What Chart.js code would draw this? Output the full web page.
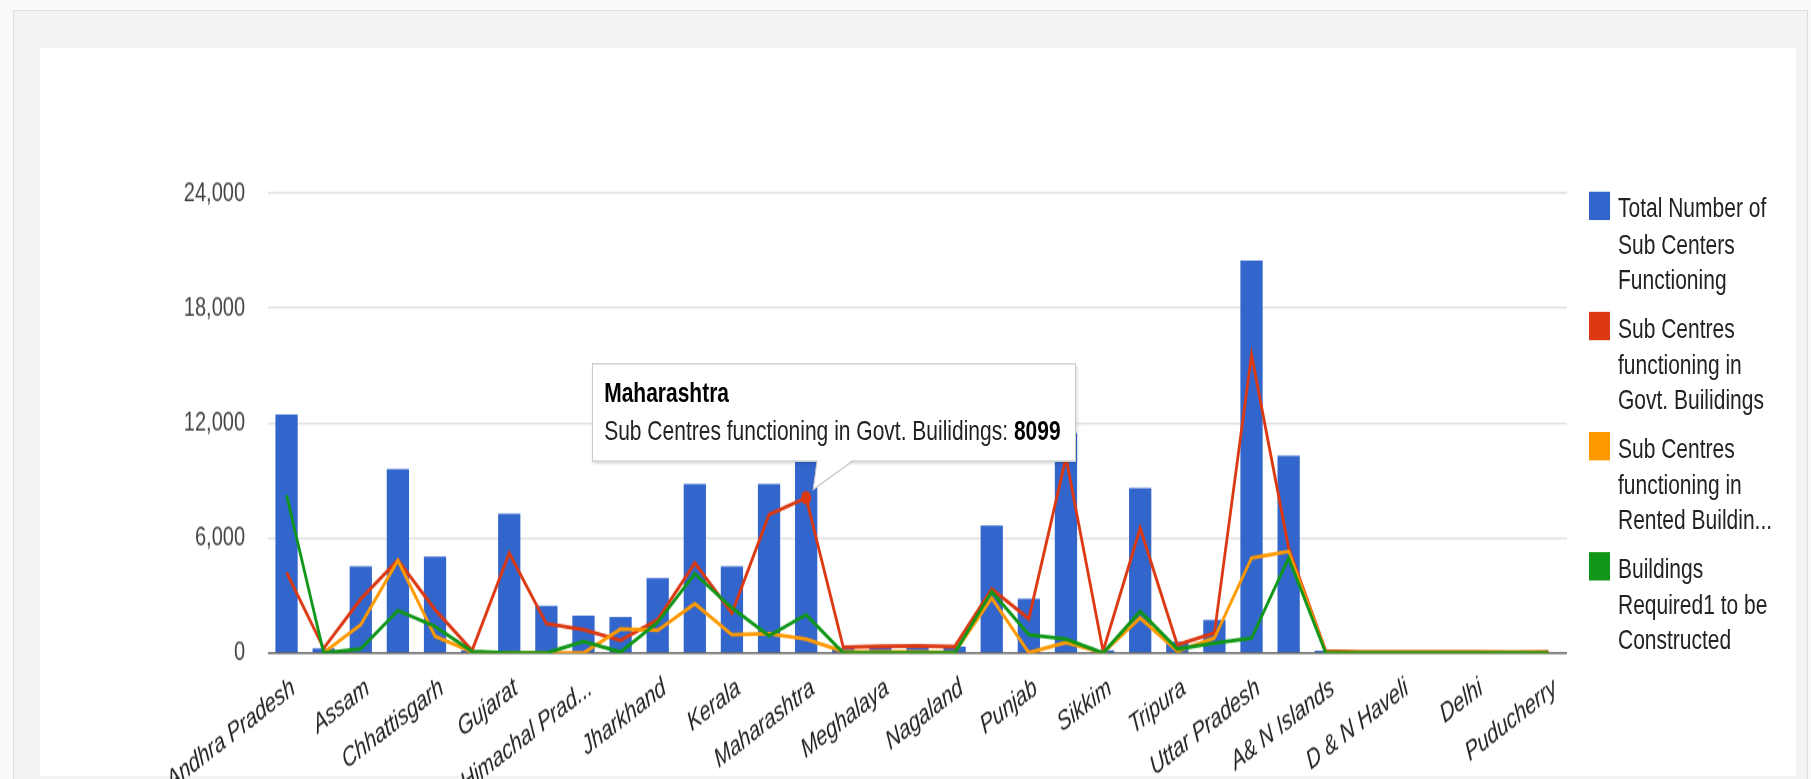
<!DOCTYPE html>
<html>
<head>
<meta charset="utf-8">
<title>Sub Centres by State</title>
<script src="https://cdn.jsdelivr.net/npm/chart.js@4.4.1/dist/chart.umd.min.js"></script>
<style>
  html, body {
    margin: 0;
    padding: 0;
    width: 1811px;
    height: 779px;
    overflow: hidden;
    background: #fafafa;
    font-family: "Liberation Sans", Arial, sans-serif;
  }
  .frame {
    position: absolute;
    left: 13px;
    top: 10px;
    width: 1795px;
    height: 800px;
    box-sizing: border-box;
    background: #f3f3f3;
    border: 1px solid #dedede;
  }
  .panel {
    position: absolute;
    left: 40px;
    top: 48px;
    width: 1756px;
    height: 728px;
    background: #fff;
  }
  /* the source picture is stretched vertically, so the whole chart is too */
  .stage {
    position: absolute;
    left: 0;
    top: 0;
    width: 1811px;
    height: 577px;
    transform: scaleY(1.35);
    transform-origin: 0 0;
  }
  .chart-box { position: absolute; left: 0; top: 0; width: 1811px; height: 577px; }
  .legend { position: absolute; left: 1589px; top: 142px; }
  .legend-item { position: relative; height: 89px; }
  .legend-swatch { position: absolute; left: 0; top: 0; width: 21px; height: 21px; }
  .legend-text {
    position: absolute;
    left: 29px;
    top: -1px;
    font-size: 21px;
    line-height: 26.7px;
    color: #222;
    white-space: nowrap;
  }
  .tip {
    position: absolute;
    box-sizing: border-box;
    height: 73px;
    padding: 7px 14px 0 11px;
    background: #fff;
    border: 1px solid #ccc;
    box-shadow: 1px 2px 3px rgba(0, 0, 0, 0.18);
    font-size: 21px;
    line-height: 28.4px;
    color: #222;
    white-space: nowrap;
  }
  .tip .title { font-weight: bold; color: #000; }
  .tip b { color: #000; }
  .tail { position: absolute; left: 0; top: 0; overflow: visible; }
</style>
</head>
<body>
<div class="frame"></div>
<div class="panel"></div>
<div class="stage" id="stage">
  <div class="chart-box"><canvas id="subCentreChart"></canvas></div>
  <div class="legend" id="legend"></div>
</div>

<script>
const categories = [
  "Andhra Pradesh", "Arunachal Pradesh", "Assam", "Bihar", "Chhattisgarh", "Goa",
  "Gujarat", "Haryana", "Himachal Pradesh", "Jammu & Kashmir", "Jharkhand", "Karnataka",
  "Kerala", "Madhya Pradesh", "Maharashtra", "Manipur", "Meghalaya", "Mizoram",
  "Nagaland", "Orissa", "Punjab", "Rajasthan", "Sikkim", "Tamil Nadu",
  "Tripura", "Uttarakhand", "Uttar Pradesh", "West Bengal", "A& N Islands", "Chandigarh",
  "D & N Haveli", "Daman & Diu", "Delhi", "Lakshadweep", "Puducherry"
];

const totalFunctioning = [
  12440, 240, 4520, 9600, 5040, 140, 7270, 2470, 1950, 1880, 3910, 8820,
  4520, 8820, 10580, 280, 330, 280, 330, 6660, 2830, 11480, 140, 8610,
  600, 1720, 20480, 10290, 120, 20, 50, 30, 40, 15, 50
];
const govtBuildings = [
  4200, 250, 2820, 4850, 2260, 140, 5220, 1530, 1220, 660, 1740, 4700,
  2090, 7220, 8099, 300, 350, 370, 330, 3340, 1790, 10200, 100, 6520,
  430, 1040, 15560, 5480, 110, 60, 60, 50, 50, 40, 50
];
const rentedBuildings = [
  null, 20, 1480, 4830, 870, 60, 0, 0, 0, 1250, 1180, 2570,
  960, 1010, 730, 80, 60, 60, 20, 2870, 20, 550, 10, 1830,
  100, 780, 4960, 5300, 50, 30, 30, 30, 30, 30, 30
];
const toBeConstructed = [
  8250, 0, 210, 2220, 1390, 80, 0, 0, 600, 50, 1600, 4140,
  2350, 900, 2000, 0, 0, 0, 0, 3210, 960, 730, 0, 2170,
  210, 520, 780, 4960, 0, 0, 0, 0, 0, 0, 0
];

const seriesNames = [
  "Total Number of Sub Centers Functioning",
  "Sub Centres functioning in Govt. Builidings",
  "Sub Centres functioning in Rented Buildings",
  "Buildings Required1 to be Constructed"
];
const seriesColors = ["#3366cc", "#dc3912", "#ff9900", "#109618"];
const yTicks = [0, 6000, 12000, 18000, 24000];

// the hovered point in the picture
const tipCategory = "Maharashtra";
const tipSeries = 1;

const fontFamily = '"Liberation Sans", Arial, sans-serif';
Chart.defaults.font.family = fontFamily;

const tipIndex = categories.indexOf(tipCategory);
const stage = document.getElementById("stage");

// tooltip box and callout, built once and moved onto the point after each draw
const tip = document.createElement("div");
tip.className = "tip";
const tipTitle = document.createElement("div");
tipTitle.className = "title";
tipTitle.textContent = categories[tipIndex];
const tipBody = document.createElement("div");
tipBody.innerHTML = seriesNames[tipSeries] + ": <b>" + govtBuildings[tipIndex] + "</b>";
tip.appendChild(tipTitle);
tip.appendChild(tipBody);

const svgNS = "http://www.w3.org/2000/svg";
const tail = document.createElementNS(svgNS, "svg");
tail.setAttribute("class", "tail");
tail.setAttribute("width", "1811");
tail.setAttribute("height", "577");
const wedge = document.createElementNS(svgNS, "polygon");
wedge.setAttribute("fill", "#fff");
const edge = document.createElementNS(svgNS, "polyline");
edge.setAttribute("fill", "none");
edge.setAttribute("stroke", "#c8c8c8");
edge.setAttribute("stroke-width", "1");
tail.appendChild(wedge);
tail.appendChild(edge);

const tipPlacer = {
  id: "tipPlacer",
  afterDraw(chart) {
    const pt = chart.getDatasetMeta(tipSeries).data[tipIndex];
    if (!pt) return;
    const px = pt.x;
    const py = pt.y;
    const boxTop = py - 100;
    const boxBottom = boxTop + 73;
    tip.style.left = (px - 214) + "px";
    tip.style.top = boxTop + "px";
    wedge.setAttribute("points",
      `${px + 11},${boxBottom - 1.5} ${px + 47},${boxBottom - 1.5} ${px + 7},${py - 6}`);
    edge.setAttribute("points",
      `${px + 11},${boxBottom - 0.5} ${px + 7},${py - 6} ${px + 47},${boxBottom - 0.5}`);
    if (!tip.parentNode) {
      stage.appendChild(tip);
      stage.appendChild(tail);
    }
  }
};

function lineSet(i, values, order) {
  return {
    type: "line",
    label: seriesNames[i],
    data: values,
    borderColor: seriesColors[i],
    backgroundColor: seriesColors[i],
    borderWidth: 2.8,
    tension: 0,
    pointRadius: ctx => (i === tipSeries && ctx.dataIndex === tipIndex ? 5 : 0),
    pointHoverRadius: 0,
    pointBorderWidth: 0,
    order: order
  };
}

const chart = new Chart(document.getElementById("subCentreChart"), {
  type: "bar",
  data: {
    labels: categories,
    datasets: [
      {
        label: seriesNames[0],
        data: totalFunctioning,
        backgroundColor: seriesColors[0],
        categoryPercentage: 0.6,
        barPercentage: 1,
        order: 4
      },
      lineSet(1, govtBuildings, 3),
      lineSet(2, rentedBuildings, 2),
      lineSet(3, toBeConstructed, 1)
    ]
  },
  plugins: [tipPlacer],
  options: {
    responsive: true,
    maintainAspectRatio: false,
    animation: false,
    events: [],
    layout: { padding: { left: 0, right: 244, top: 143, bottom: 0 } },
    plugins: {
      legend: { display: false },
      tooltip: { enabled: false }
    },
    scales: {
      x: {
        grid: { display: false },
        border: { display: false },
        afterFit: scale => { scale.height = 93.3; },
        ticks: {
          autoSkip: false,
          minRotation: 30,
          maxRotation: 30,
          padding: 6,
          labelOffset: 7,
          color: "#222",
          font: { size: 20, style: "italic" },
          callback: function (value, index) {
            if (index % 2 !== 0) return "";
            const name = this.getLabelForValue(value);
            return name.length > 15 ? name.slice(0, 13) + "..." : name;
          }
        }
      },
      y: {
        min: yTicks[0],
        max: yTicks[yTicks.length - 1],
        afterBuildTicks: scale => { scale.ticks = yTicks.map(v => ({ value: v })); },
        afterFit: scale => { scale.width = 268; },
        border: { display: false },
        grid: {
          drawTicks: false,
          color: ctx => (ctx.tick && ctx.tick.value === 0 ? "#666" : "#e2e2e2"),
          lineWidth: 1.6
        },
        ticks: {
          padding: 23,
          color: "#444",
          font: { size: 20 },
          callback: value => value.toLocaleString("en-US")
        }
      }
    }
  }
});

// legend: wrap like the source, three lines at most
const measure = document.createElement("canvas").getContext("2d");
measure.font = "21px " + fontFamily;

function wrapLabel(text, maxWidth, maxLines) {
  const words = text.split(" ");
  const lines = [];
  let line = "";
  words.forEach(w => {
    const test = line ? line + " " + w : w;
    if (!line || measure.measureText(test).width <= maxWidth) {
      line = test;
    } else {
      lines.push(line);
      line = w;
    }
  });
  lines.push(line);
  if (lines.length <= maxLines) return lines;

  const kept = lines.slice(0, maxLines - 1);
  let rest = lines.slice(maxLines - 1).join(" ");
  while (rest.length && measure.measureText(rest + "...").width > maxWidth) {
    rest = rest.slice(0, -1);
  }
  kept.push(rest + "...");
  return kept;
}

const legendEl = document.getElementById("legend");
chart.data.datasets.forEach(ds => {
  const item = document.createElement("div");
  item.className = "legend-item";
  const swatch = document.createElement("div");
  swatch.className = "legend-swatch";
  swatch.style.background = ds.backgroundColor;
  const text = document.createElement("div");
  text.className = "legend-text";
  text.innerHTML = wrapLabel(ds.label, 156, 3).join("<br>");
  item.appendChild(swatch);
  item.appendChild(text);
  legendEl.appendChild(item);
});
</script>
</body>
</html>
